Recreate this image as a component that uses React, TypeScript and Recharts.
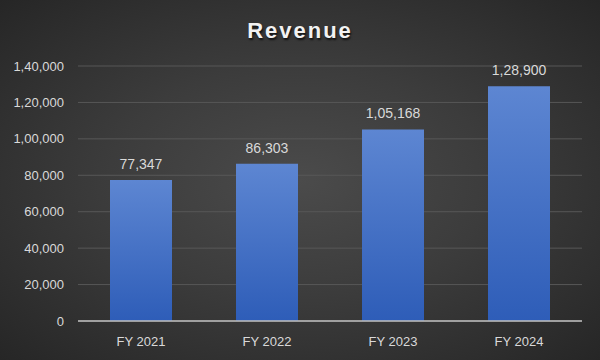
import { BarChart, Bar, XAxis, YAxis, CartesianGrid, LabelList } from "recharts";

const years = ["FY 2021", "FY 2022", "FY 2023", "FY 2024"];
const revenue = [77347, 86303, 105168, 128900];
const yTicks = [0, 20000, 40000, 60000, 80000, 100000, 120000, 140000];

const data = years.map((name, i) => ({ name, revenue: revenue[i] }));

// Indian grouping: 1,28,900
function fmtIN(v: number) {
  const s = String(Math.round(v));
  if (s.length <= 3) return s;
  const last3 = s.slice(-3);
  let rest = s.slice(0, -3);
  const parts: string[] = [];
  while (rest.length > 2) {
    parts.unshift(rest.slice(-2));
    rest = rest.slice(0, -2);
  }
  if (rest) parts.unshift(rest);
  return parts.join(",") + "," + last3;
}

const font = "'Liberation Sans', Arial, sans-serif";
const textColor = "#d9d9d9";

export default function App() {
  return (
    <div
      style={{
        position: "absolute",
        top: 0,
        left: 0,
        width: 600,
        height: 360,
        background:
          "radial-gradient(ellipse at 50% 50%, #4b4b4b 0%, #3c3c3c 45%, #262626 100%)",
        fontFamily: font,
        overflow: "hidden",
      }}
    >
      <div
        style={{
          position: "absolute",
          top: 18,
          left: 0,
          width: 600,
          textAlign: "center",
          color: "#f2f2f2",
          fontSize: 22,
          fontWeight: "bold",
          letterSpacing: 2,
          textShadow: "1px 2px 2px rgba(0,0,0,0.7)",
        }}
      >
        Revenue
      </div>
      <BarChart
        width={600}
        height={360}
        data={data}
        margin={{ top: 66, right: 18, left: 0, bottom: 0 }}
        style={{ position: "absolute", top: 0, left: 0 }}
      >
        <defs>
          <linearGradient id="barFill" x1="0" y1="0" x2="0" y2="1">
            <stop offset="0%" stopColor="#5d86d2" />
            <stop offset="100%" stopColor="#2e5db8" />
          </linearGradient>
        </defs>
        <CartesianGrid vertical={false} stroke="#575757" strokeWidth={1} />
        <XAxis
          dataKey="name"
          height={39}
          axisLine={{ stroke: "#bfbfbf", strokeWidth: 1.5 }}
          tickLine={false}
          tick={{ fill: textColor, fontSize: 13, fontFamily: font }}
          tickMargin={10}
        />
        <YAxis
          width={78}
          domain={[0, 140000]}
          ticks={yTicks}
          axisLine={false}
          tickLine={false}
          tickFormatter={fmtIN}
          tick={{ fill: textColor, fontSize: 13, fontFamily: font }}
          tickMargin={8}
        />
        <Bar
          dataKey="revenue"
          fill="url(#barFill)"
          barSize={62}
          isAnimationActive={false}
        >
          <LabelList
            dataKey="revenue"
            position="top"
            offset={11}
            formatter={(v: number) => fmtIN(v)}
            style={{ fill: textColor, fontSize: 14, fontFamily: font }}
          />
        </Bar>
      </BarChart>
    </div>
  );
}
